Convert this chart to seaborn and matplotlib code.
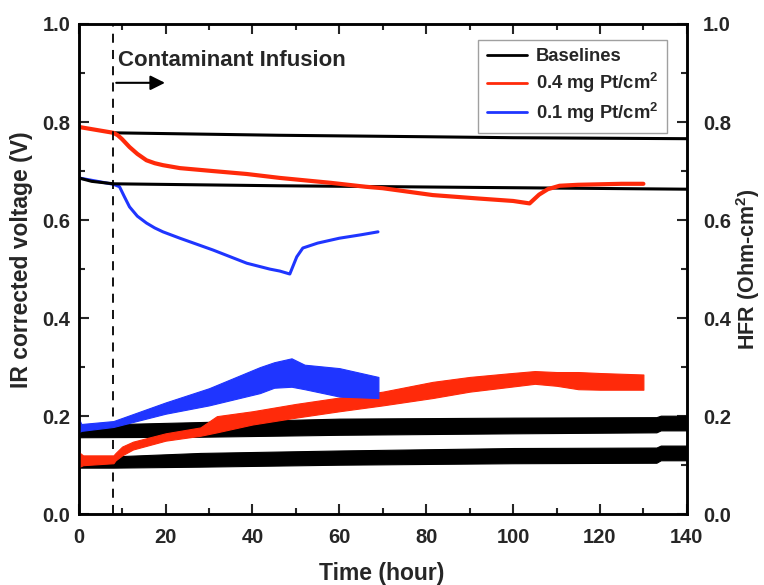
import matplotlib
matplotlib.use("Agg")
import matplotlib.pyplot as plt
import seaborn as sns
from matplotlib.lines import Line2D

# ---------------- data ----------------
# Voltage curves (left axis)
base_v_hi_t = [8, 46, 80, 100, 140]
base_v_hi_y = [0.778, 0.773, 0.770, 0.768, 0.766]
base_v_lo_t = [0, 3, 8, 46, 100, 140]
base_v_lo_y = [0.686, 0.679, 0.674, 0.670, 0.666, 0.663]

red_v_t = [0, 4, 8, 9, 10, 11.7, 13.5, 15.6, 17.5, 19.4, 23.3, 30.9, 38.7, 46.3, 58, 66, 70,
           81.5, 92, 100, 103.8, 106, 108, 110.7, 115, 120, 125, 130]
red_v_y = [0.790, 0.784, 0.778, 0.773, 0.765, 0.749, 0.735, 0.722, 0.716, 0.712, 0.706, 0.700,
           0.694, 0.686, 0.676, 0.668, 0.665, 0.651, 0.644, 0.639, 0.634, 0.652, 0.663, 0.670,
           0.672, 0.673, 0.674, 0.674]

blue_v_t = [0, 8, 9.4, 10.5, 11.7, 13.5, 15.6, 17.5, 19.4, 23.3, 30.9, 38.7, 44, 46.3, 48.6,
            50.2, 51.6, 55, 60, 65, 68.9]
blue_v_y = [0.686, 0.673, 0.668, 0.648, 0.627, 0.608, 0.594, 0.584, 0.576, 0.563, 0.539, 0.512,
            0.500, 0.496, 0.490, 0.525, 0.543, 0.553, 0.563, 0.570, 0.576]

# HFR bands (right axis): time, lower edge, upper edge
base_h_hi_t = [0, 28, 60, 100, 133, 134, 140]
base_h_hi_lo = [0.157, 0.158, 0.162, 0.165, 0.167, 0.171, 0.171]
base_h_hi_up = [0.182, 0.188, 0.195, 0.197, 0.198, 0.201, 0.201]

base_h_lo_t = [0, 8, 28, 60, 100, 133, 134, 140]
base_h_lo_lo = [0.095, 0.095, 0.097, 0.101, 0.104, 0.105, 0.110, 0.110]
base_h_lo_up = [0.113, 0.118, 0.125, 0.130, 0.135, 0.136, 0.140, 0.140]

red_h_t = [0, 1, 8, 8.5, 10, 12.5, 20, 28, 31.8, 40, 50, 60, 70, 81.5, 90, 98.5, 105, 110, 115, 120, 130]
red_h_lo = [0.096, 0.100, 0.104, 0.110, 0.120, 0.132, 0.150, 0.160, 0.167, 0.183, 0.197, 0.210,
            0.222, 0.237, 0.250, 0.259, 0.266, 0.262, 0.255, 0.254, 0.254]
red_h_up = [0.127, 0.120, 0.120, 0.125, 0.138, 0.148, 0.165, 0.177, 0.200, 0.210, 0.225, 0.238,
            0.250, 0.270, 0.280, 0.287, 0.292, 0.290, 0.290, 0.288, 0.285]

blue_h_t = [0, 0.6, 8, 20, 30, 41.7, 45, 49, 52, 60, 69]
blue_h_lo = [0.167, 0.170, 0.178, 0.205, 0.222, 0.247, 0.258, 0.260, 0.255, 0.240, 0.237]
blue_h_up = [0.196, 0.184, 0.190, 0.228, 0.257, 0.300, 0.310, 0.318, 0.305, 0.298, 0.280]

legend_labels = ["Baselines", "0.4 mg Pt/cm$^\\mathregular{2}$", "0.1 mg Pt/cm$^\\mathregular{2}$"]
tick_labels = ["0.0", "0.2", "0.4", "0.6", "0.8", "1.0"]
colors = {"base": "#000000", "red": "#ff2a0a", "blue": "#1f35ff"}

# ---------------- figure ----------------
sns.set_theme(style="ticks")
plt.rcParams["font.family"] = ["Liberation Sans", "DejaVu Sans"]
plt.rcParams["font.weight"] = "bold"
plt.rcParams["mathtext.default"] = "regular"

fig = plt.figure(figsize=(7.64, 5.85), dpi=100)
ax = fig.add_axes([0.103, 0.121, 0.796, 0.838])
ax2 = ax.twinx()

# HFR bands
for t, lo, up, c in [(base_h_hi_t, base_h_hi_lo, base_h_hi_up, colors["base"]),
                     (base_h_lo_t, base_h_lo_lo, base_h_lo_up, colors["base"]),
                     (red_h_t, red_h_lo, red_h_up, colors["red"]),
                     (blue_h_t, blue_h_lo, blue_h_up, colors["blue"])]:
    ax2.fill_between(t, lo, up, color=c, linewidth=0.8, edgecolor=c)

# Voltage lines
sns.lineplot(x=blue_v_t, y=blue_v_y, ax=ax, color=colors["blue"], lw=2.2)
sns.lineplot(x=base_v_hi_t, y=base_v_hi_y, ax=ax, color=colors["base"], lw=2.2)
sns.lineplot(x=base_v_lo_t, y=base_v_lo_y, ax=ax, color=colors["base"], lw=2.2)
sns.lineplot(x=red_v_t, y=red_v_y, ax=ax, color=colors["red"], lw=3.0)

ax.axvline(8, color="black", lw=1.3, ls=(0, (5, 4)))
ax.annotate("", xy=(20.5, 0.88), xytext=(8, 0.88),
            arrowprops=dict(arrowstyle="-|>", color="black", lw=1.5, mutation_scale=22))
ax.text(9, 0.925, "Contaminant Infusion", fontsize=16, fontweight="bold", va="center", ha="left")

for a in (ax, ax2):
    a.set_xlim(0, 140)
    a.set_ylim(0, 1.0)
    a.set_yticks([0, 0.2, 0.4, 0.6, 0.8, 1.0])
    a.set_yticks([0.1, 0.3, 0.5, 0.7, 0.9], minor=True)
    a.tick_params(which="major", direction="in", length=7, width=1.5, labelsize=14.5)
    a.tick_params(which="minor", direction="in", length=4, width=1.5)
    for s in a.spines.values():
        s.set_linewidth(1.8)
        s.set_color("black")

ax.set_xticks(range(0, 141, 20))
ax.set_xticks(range(10, 140, 20), minor=True)
ax.tick_params(which="both", top=True, right=False)
ax.tick_params(axis="x", which="major", pad=10)
ax.tick_params(axis="y", which="major", pad=6)
ax2.tick_params(axis="y", which="major", pad=11.5)
ax.set_yticklabels(tick_labels)
ax2.set_yticklabels(tick_labels)
for lab in ax.get_xticklabels() + ax.get_yticklabels() + ax2.get_yticklabels():
    lab.set_fontweight("bold")

ax.set_xlabel("Time (hour)", fontsize=16.5, fontweight="bold")
ax.set_ylabel("IR corrected voltage (V)", fontsize=16.5, fontweight="bold")
ax2.set_ylabel("HFR (Ohm-cm$^\\mathregular{2}$)", fontsize=15.5, fontweight="bold")
ax.xaxis.set_label_coords(0.498, -0.12)
ax.xaxis.label.set_va("center")
ax.yaxis.set_label_coords(-0.094, 0.52)
ax.yaxis.label.set_va("center")
ax2.yaxis.set_label_coords(1.1, 0.5)
ax2.yaxis.label.set_va("center")

handles = [Line2D([], [], color=colors["base"], lw=2),
           Line2D([], [], color=colors["red"], lw=2),
           Line2D([], [], color=colors["blue"], lw=2)]
leg = ax2.legend(handles, legend_labels, loc="upper right", bbox_to_anchor=(0.967, 0.967),
                 borderaxespad=0, frameon=True, fancybox=False, handlelength=2.2,
                 prop={"weight": "bold", "size": 13.2}, labelspacing=0.3, handletextpad=0.5,
                 borderpad=0.45)
leg.get_frame().set_edgecolor("#888888")
leg.get_frame().set_linewidth(1.0)

fig.savefig("out.png", dpi=100)
